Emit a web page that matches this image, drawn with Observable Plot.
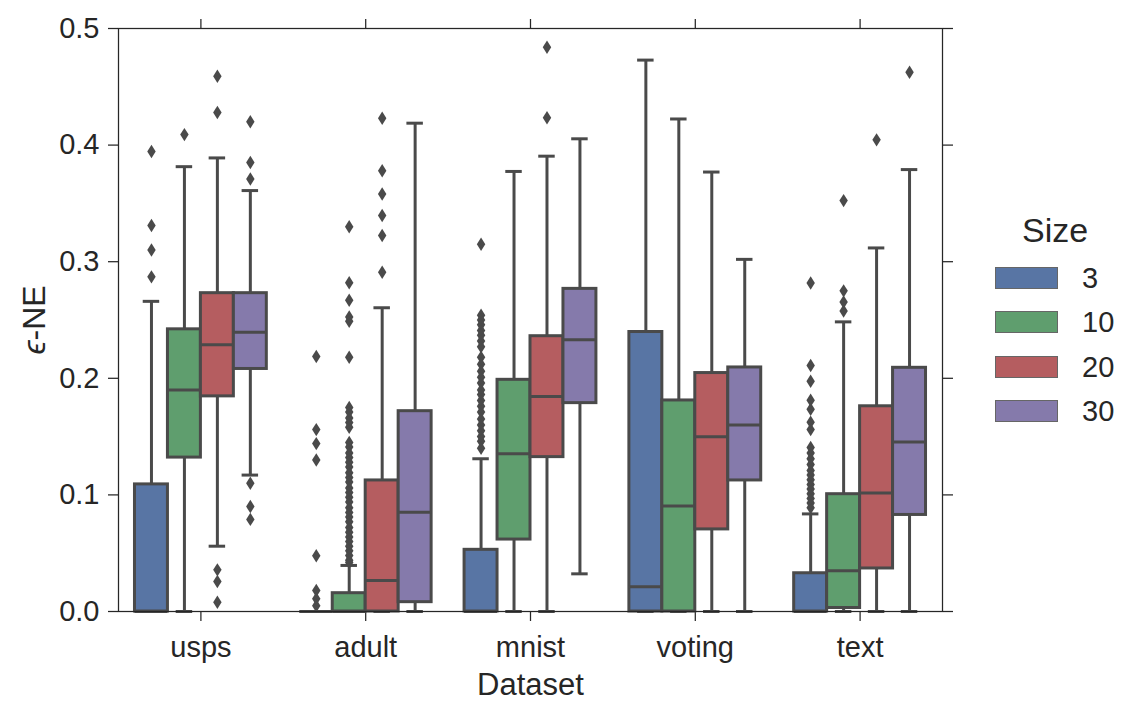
<!DOCTYPE html>
<html>
<head>
<meta charset="utf-8">
<script src="https://cdn.jsdelivr.net/npm/d3@7"></script>
<script src="https://cdn.jsdelivr.net/npm/@observablehq/plot@0.6"></script>
<style>
  body { margin: 0; background: #fff; font-family: "Liberation Sans", Arial, sans-serif; }
  #wrap { position: relative; width: 1121px; height: 702px; overflow: hidden; }
  #legend { position: absolute; left: 0; top: 0; width: 1121px; height: 702px; pointer-events: none; color: #262626; }
  .lg-title { position: absolute; left: 1022px; top: 210px; font-size: 34px; line-height: 40px; }
  .lg-row { position: absolute; left: 995px; height: 24px; display: flex; align-items: center; }
  .lg-sw { width: 61px; height: 20px; border: 1.5px solid #666; box-sizing: content-box; }
  .lg-lab { margin-left: 24px; font-size: 29px; line-height: 24px; }
</style>
</head>
<body>
<div id="wrap"></div>
<script>
// ---------- data ----------
const datasets = ["usps", "adult", "mnist", "voting", "text"];
const sizes = [3, 10, 20, 30];
const colors = ["#5875a4", "#5f9e6e", "#b55d60", "#857aab"];
const yTicks = [0, 0.1, 0.2, 0.3, 0.4, 0.5];

// rows: dataset, columns: size 3, 10, 20, 30
const whiskerLo = [
  [0, 0, 0.056, 0.117],
  [0, 0, 0, 0],
  [0, 0, 0, 0.0323],
  [0, 0, 0, 0],
  [0, 0, 0, 0]
];
const q1Vals = [
  [0, 0.132, 0.1845, 0.208],
  [0, 0, 0, 0.008],
  [0, 0.0617, 0.1324, 0.1787],
  [0, 0, 0.0704, 0.1124],
  [0, 0.003, 0.0369, 0.0828]
];
const medianVals = [
  [0, 0.190, 0.2287, 0.2396],
  [0, 0, 0.0266, 0.0852],
  [0, 0.1352, 0.1844, 0.233],
  [0.0212, 0.0904, 0.1498, 0.160],
  [0, 0.035, 0.1016, 0.1453]
];
const q3Vals = [
  [0.109, 0.242, 0.273, 0.273],
  [0, 0.0157, 0.1124, 0.1718],
  [0.0529, 0.1987, 0.2361, 0.2767],
  [0.2397, 0.181, 0.2045, 0.2093],
  [0.0328, 0.1006, 0.176, 0.209]
];
const whiskerHi = [
  [0.266, 0.3815, 0.389, 0.361],
  [0, 0.0395, 0.2605, 0.4188],
  [0.131, 0.3774, 0.3905, 0.4054],
  [0.4729, 0.4224, 0.3769, 0.302],
  [0.0837, 0.2484, 0.3118, 0.379]
];
const outliers = [
  [
    [0.287, 0.310, 0.331, 0.3945],
    [0.409],
    [0.428, 0.459, 0.0357, 0.0257, 0.008],
    [0.371, 0.385, 0.420, 0.110, 0.090, 0.079]
  ],
  [
    [0.2187, 0.156, 0.144, 0.130, 0.0478, 0.018, 0.011, 0.005],
    [0.330, 0.282, 0.267, 0.2525, 0.249, 0.218, 0.175, 0.171, 0.166, 0.162, 0.158,
     0.145, 0.141, 0.136, 0.132, 0.128, 0.124, 0.119, 0.115, 0.111, 0.106, 0.102,
     0.098, 0.094, 0.089, 0.085, 0.081, 0.077, 0.072, 0.068, 0.064, 0.060, 0.056,
     0.052, 0.048, 0.044, 0.042],
    [0.291, 0.3225, 0.3396, 0.358, 0.378, 0.423],
    []
  ],
  [
    [0.315, 0.254, 0.250, 0.246, 0.241, 0.237, 0.232, 0.227, 0.218, 0.212, 0.206,
     0.201, 0.196, 0.190, 0.186, 0.181, 0.176, 0.171, 0.165, 0.160, 0.155, 0.150,
     0.146, 0.140],
    [],
    [0.4234, 0.484],
    []
  ],
  [
    [], [], [], []
  ],
  [
    [0.089, 0.093, 0.097, 0.101, 0.105, 0.109, 0.113, 0.117, 0.121, 0.126, 0.131,
     0.136, 0.1406, 0.156, 0.1624, 0.1734, 0.1812, 0.1974, 0.211, 0.2818],
    [0.2577, 0.2655, 0.275, 0.3524],
    [0.4045],
    [0.4624]
  ]
];

// ---------- build tables ----------
const boxes = [];
const fliers = [];
datasets.forEach((d, i) => sizes.forEach((s, j) => {
  const xc = i + (j - 1.5) * 0.2;
  boxes.push({
    dataset: d, size: s, xc,
    x1: xc - 0.1, x2: xc + 0.1, c1: xc - 0.05, c2: xc + 0.05,
    lo: whiskerLo[i][j], q1: q1Vals[i][j], med: medianVals[i][j],
    q3: q3Vals[i][j], hi: whiskerHi[i][j]
  });
  outliers[i][j].forEach(v => fliers.push({dataset: d, size: s, xc, v}));
}));

const thinDiamond = {
  draw(context, size) {
    const r = Math.sqrt(size / Math.PI);
    context.moveTo(0, -r * 1.4);
    context.lineTo(r * 0.88, 0);
    context.lineTo(0, r * 1.4);
    context.lineTo(-r * 0.88, 0);
    context.closePath();
  }
};

const gray = "#4a4a4a";
const ink = "#262626";

const plot = Plot.plot({
  width: 1121,
  height: 702,
  marginLeft: 118,
  marginRight: 179,
  marginTop: 28,
  marginBottom: 91,
  x: {domain: [-0.5, 4.5], axis: null},
  y: {domain: [0, 0.5], axis: null},
  color: {domain: sizes, range: colors},
  style: {fontFamily: "'Liberation Sans', Arial, sans-serif", fontSize: "29px", color: ink, background: "white", overflow: "visible"},
  marks: [
    Plot.axisY({ticks: yTicks, tickFormat: ".1f", tickSize: 10, tickPadding: 9, label: null, stroke: ink, strokeWidth: 1.25, fill: ink, fontSize: 29}),
    Plot.axisY({anchor: "right", ticks: yTicks, tickFormat: () => "", tickSize: 10, label: null, stroke: ink, strokeWidth: 1.25}),
    Plot.axisX({ticks: [0, 1, 2, 3, 4], tickFormat: i => datasets[i], tickSize: 10, tickPadding: 15, label: null, stroke: ink, strokeWidth: 1.25, fill: ink, fontSize: 29}),
    Plot.axisX({anchor: "top", ticks: [0, 1, 2, 3, 4], tickFormat: () => "", tickSize: 10, label: null, stroke: ink, strokeWidth: 1.25}),
    Plot.ruleX(boxes, {x: "xc", y1: "lo", y2: "q1", stroke: gray, strokeWidth: 3}),
    Plot.ruleX(boxes, {x: "xc", y1: "q3", y2: "hi", stroke: gray, strokeWidth: 3}),
    Plot.ruleY(boxes, {y: "lo", x1: "c1", x2: "c2", stroke: gray, strokeWidth: 3}),
    Plot.ruleY(boxes, {y: "hi", x1: "c1", x2: "c2", stroke: gray, strokeWidth: 3}),
    Plot.rect(boxes, {x1: "x1", x2: "x2", y1: "q1", y2: "q3", fill: "size", stroke: gray, strokeWidth: 3}),
    Plot.ruleY(boxes, {y: "med", x1: "x1", x2: "x2", stroke: gray, strokeWidth: 3}),
    Plot.dot(fliers, {x: "xc", y: "v", symbol: thinDiamond, r: 4.8, fill: gray, stroke: "none"}),
    Plot.frame({stroke: ink, strokeWidth: 1.25}),
    Plot.text(["ϵ-NE"], {frameAnchor: "left", dx: -84, rotate: -90, textAnchor: "middle", lineAnchor: "middle", fontSize: 32, fill: ink}),
    Plot.text(["Dataset"], {frameAnchor: "bottom", dy: 74, textAnchor: "middle", lineAnchor: "middle", fontSize: 31, fill: ink})
  ]
});

// italic epsilon in the y label
plot.querySelectorAll("text").forEach(t => {
  if (t.textContent === "ϵ-NE") {
    while (t.firstChild) t.removeChild(t.firstChild);
    const ns = "http://www.w3.org/2000/svg";
    const a = document.createElementNS(ns, "tspan");
    a.setAttribute("font-style", "italic");
    a.textContent = "ϵ";
    const b = document.createElementNS(ns, "tspan");
    b.textContent = "-NE";
    t.appendChild(a);
    t.appendChild(b);
  }
});

const wrap = document.getElementById("wrap");
wrap.appendChild(plot);

// legend
const color = plot.scale("color");
const legend = document.createElement("div");
legend.id = "legend";
const title = document.createElement("div");
title.className = "lg-title";
title.textContent = "Size";
legend.appendChild(title);
sizes.forEach((s, i) => {
  const row = document.createElement("div");
  row.className = "lg-row";
  row.style.top = (265.5 + i * 44.5) + "px";
  const sw = document.createElement("div");
  sw.className = "lg-sw";
  sw.style.background = color.apply(s);
  const lab = document.createElement("div");
  lab.className = "lg-lab";
  lab.textContent = String(s);
  row.appendChild(sw);
  row.appendChild(lab);
  legend.appendChild(row);
});
wrap.appendChild(legend);
</script>
</body>
</html>
